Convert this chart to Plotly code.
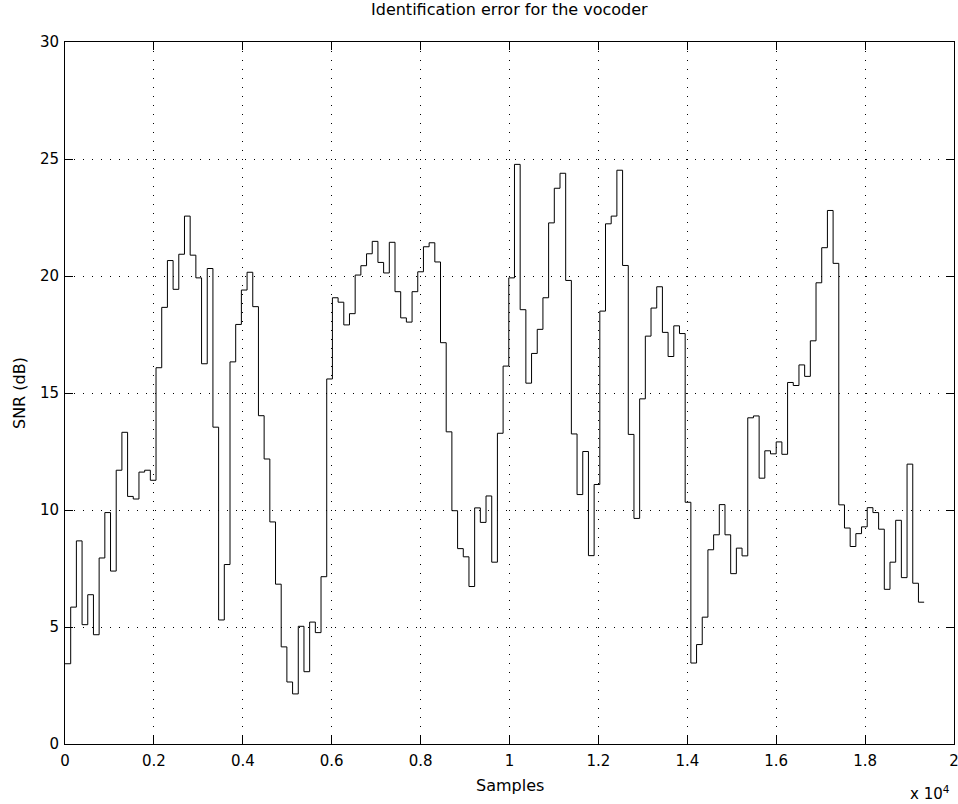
import numpy as np
import plotly.graph_objects as go

# Frame-by-frame SNR of the vocoder identification error (one value per frame)
frame_len = 128
snr_db = [
    3.43, 5.85, 8.68, 5.10, 6.38, 4.67, 7.95, 9.89, 7.39, 11.70,
    13.32, 10.58, 10.47, 11.62, 11.70, 11.27, 16.08, 18.66, 20.66, 19.43,
    20.93, 22.56, 20.89, 19.92, 16.25, 20.32, 13.54, 5.30, 7.67, 16.33,
    17.93, 19.40, 20.16, 18.69, 14.03, 12.18, 9.49, 6.83, 4.15, 2.65,
    2.14, 5.03, 3.09, 5.21, 4.76, 7.15, 15.60, 19.07, 18.88, 17.91,
    18.39, 20.04, 20.44, 20.95, 21.48, 20.58, 20.13, 21.44, 19.33, 18.21,
    18.03, 19.33, 20.18, 21.25, 21.42, 20.60, 17.15, 13.34, 9.97, 8.35,
    8.00, 6.73, 10.09, 9.47, 10.60, 7.77, 13.28, 16.15, 19.92, 24.77,
    18.56, 15.42, 16.69, 17.72, 19.07, 22.27, 23.75, 24.39, 19.81, 13.25,
    10.66, 12.50, 8.05, 11.09, 18.50, 22.23, 22.56, 24.52, 20.45, 13.23,
    9.64, 14.75, 17.43, 18.63, 19.54, 17.59, 16.56, 17.87, 17.54, 10.33,
    3.46, 4.25, 5.42, 8.30, 8.94, 10.23, 8.94, 7.28, 8.37, 8.04,
    13.94, 14.02, 11.36, 12.53, 12.40, 12.91, 12.38, 15.45, 15.32, 16.20,
    15.71, 17.23, 19.71, 21.21, 22.80, 20.54, 10.22, 9.23, 8.44, 8.99,
    9.28, 10.10, 9.89, 9.18, 6.61, 7.77, 9.56, 7.11, 11.96, 6.87,
    6.06,
]

x_tick_vals = [0, 2000, 4000, 6000, 8000, 10000, 12000, 14000, 16000, 18000, 20000]
x_tick_text = ["0", "0.2", "0.4", "0.6", "0.8", "1", "1.2", "1.4", "1.6", "1.8", "2"]
y_tick_vals = [0, 5, 10, 15, 20, 25, 30]

# stair edges: each frame value held over its 128 samples
x_edges = np.arange(len(snr_db) + 1) * frame_len
y_edges = snr_db + [snr_db[-1]]

FONT = "DejaVu Sans, Liberation Sans, Arial, sans-serif"

fig = go.Figure()
fig.add_trace(go.Scatter(
    x=x_edges, y=y_edges, mode="lines",
    line=dict(shape="hv", color="black", width=1),
    showlegend=False, hoverinfo="skip",
))

axis_common = dict(
    showline=True, linecolor="black", linewidth=1, mirror="ticks",
    ticks="inside", ticklen=8, tickcolor="black", tickwidth=1,
    showgrid=True, gridcolor="black", gridwidth=1, griddash="1px,8px",
    zeroline=False, ticklabeloverflow="allow", automargin=False,
    tickfont=dict(family=FONT, size=15, color="black"),
)

fig.update_xaxes(range=[0, 20000], tickvals=x_tick_vals, ticktext=x_tick_text,
                 ticklabelstandoff=3, **axis_common)
fig.update_yaxes(range=[0, 30], tickvals=y_tick_vals, ticklabelstandoff=2,
                 **axis_common)

fig.update_layout(
    width=958, height=804,
    margin=dict(l=65, r=4, t=42, b=60, autoexpand=False),
    plot_bgcolor="white", paper_bgcolor="white",
    font=dict(family=FONT, size=15, color="black"),
    annotations=[
        dict(text="Identification error for the vocoder", x=0.5, y=1,
             xref="paper", yref="paper", xanchor="center", yanchor="bottom",
             yshift=21, showarrow=False, font=dict(family=FONT, size=16)),
        dict(text="Samples", x=0.5, y=0, xref="paper", yref="paper",
             xanchor="center", yanchor="top", yshift=-30, showarrow=False,
             font=dict(family=FONT, size=16)),
        dict(text="SNR (dB)", x=0, y=0.5, xref="paper", yref="paper",
             xanchor="center", yanchor="middle", xshift=-46, textangle=-90,
             showarrow=False, font=dict(family=FONT, size=16)),
        dict(text="x 10<sup>4</sup>", x=1, y=0, xref="paper", yref="paper",
             xanchor="right", yanchor="top", xshift=-2, yshift=-37,
             showarrow=False, font=dict(family=FONT, size=15)),
    ],
)

fig.write_html("out.html")
